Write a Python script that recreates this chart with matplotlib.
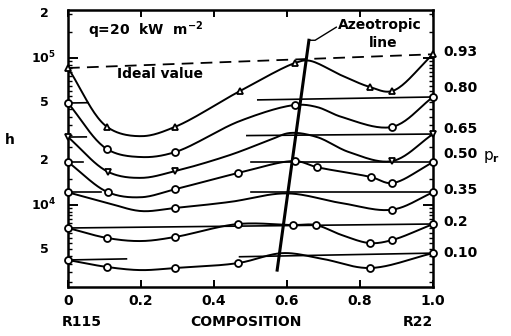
import numpy as np
import matplotlib.pyplot as plt
import matplotlib.transforms as mtransforms
from matplotlib.ticker import NullFormatter

plt.rcParams['font.family'] = ['DejaVu Sans']
plt.rcParams['font.weight'] = 'bold'

# composition = mole fraction R22, h in W/m2K, one curve per reduced pressure
pr_labels = ["0.93", "0.80", "0.65", "0.50", "0.35", "0.2", "0.10"]

x_093 = [0, 0.107, 0.2, 0.293, 0.471, 0.622, 0.66, 0.75, 0.827, 0.888, 1.0]
h_093 = [8.55e4, 3.40e4, 2.94e4, 3.40e4, 5.96e4, 9.25e4, 9.6e4, 7.6e4, 6.35e4, 5.96e4, 1.06e5]
m_093 = [1, 1, 0, 1, 1, 1, 0, 0, 1, 1, 1]

x_080 = [0, 0.107, 0.2, 0.293, 0.471, 0.622, 0.682, 0.75, 0.888, 1.0]
h_080 = [4.94e4, 2.40e4, 2.12e4, 2.29e4, 3.73e4, 4.79e4, 4.64e4, 3.97e4, 3.40e4, 5.43e4]
m_080 = [1, 1, 0, 1, 0, 1, 0, 0, 1, 1]

x_065 = [0, 0.11, 0.2, 0.293, 0.444, 0.553, 0.608, 0.682, 0.77, 0.888, 1.0]
h_065 = [2.90e4, 1.68e4, 1.53e4, 1.70e4, 2.19e4, 2.77e4, 3.09e4, 2.90e4, 2.29e4, 1.99e4, 3.04e4]
m_065 = [1, 1, 0, 1, 0, 0, 0, 0, 0, 1, 1]

x_050 = [0, 0.11, 0.2, 0.293, 0.466, 0.622, 0.682, 0.83, 0.888, 1.0]
h_050 = [1.96e4, 1.22e4, 1.13e4, 1.28e4, 1.65e4, 1.99e4, 1.81e4, 1.55e4, 1.41e4, 1.96e4]
m_050 = [1, 1, 0, 1, 1, 1, 1, 1, 1, 1]

x_035 = [0, 0.11, 0.2, 0.293, 0.444, 0.6, 0.75, 0.888, 1.0]
h_035 = [1.22e4, 1.03e4, 9.1e3, 9.55e3, 1.05e4, 1.20e4, 1.03e4, 9.3e3, 1.22e4]
m_035 = [1, 0, 0, 1, 0, 0, 0, 1, 1]

x_020 = [0, 0.107, 0.2, 0.293, 0.466, 0.616, 0.679, 0.75, 0.827, 0.888, 1.0]
h_020 = [6.98e3, 5.97e3, 5.69e3, 6.06e3, 7.43e3, 7.31e3, 7.31e3, 6.25e3, 5.51e3, 5.78e3, 7.43e3]
m_020 = [1, 1, 0, 1, 1, 1, 1, 0, 1, 1, 1]

x_010 = [0, 0.107, 0.2, 0.293, 0.466, 0.589, 0.70, 0.827, 1.0]
h_010 = [4.23e3, 3.79e3, 3.61e3, 3.73e3, 4.03e3, 4.71e3, 4.29e3, 3.73e3, 4.71e3]
m_010 = [1, 1, 0, 1, 1, 0, 0, 1, 1]

curves = [(x_093, h_093, m_093), (x_080, h_080, m_080), (x_065, h_065, m_065),
          (x_050, h_050, m_050), (x_035, h_035, m_035), (x_020, h_020, m_020),
          (x_010, h_010, m_010)]
symbols = ['^', 'o', 'v', 'o', 'o', 'o', 'o']

# visible pieces of the ideal (linear mixing) lines
ideal_parts = [[(0, 1)],
               [(0, 0.055), (0.52, 1)],
               [(0, 0.05), (0.49, 1)],
               [(0, 0.04), (0.5, 1)],
               [(0, 0.09), (0.5, 1)],
               [(0, 1)],
               [(0, 0.16), (0.47, 1)]]

# azeotropic composition line
azeo_x = [0.573, 0.66]
azeo_h = [3.61e3, 1.32e5]

label_h = [1.10e5, 6.25e4, 3.29e4, 2.22e4, 1.26e4, 7.66e3, 4.71e3]


def smooth(xs, hs, n=24):
    # centripetal catmull-rom through the nodes, in screen-like units
    pts = np.column_stack([np.asarray(xs) * 365.0, np.log10(hs) * 147.0])
    p = np.vstack([2 * pts[0] - pts[1], pts, 2 * pts[-1] - pts[-2]])
    out = []
    for i in range(1, len(p) - 2):
        p0, p1, p2, p3 = p[i - 1], p[i], p[i + 1], p[i + 2]
        t0 = 0.0
        t1 = t0 + np.linalg.norm(p1 - p0) ** 0.5
        t2 = t1 + np.linalg.norm(p2 - p1) ** 0.5
        t3 = t2 + np.linalg.norm(p3 - p2) ** 0.5
        t = np.linspace(t1, t2, n)[:, None]
        a1 = (t1 - t) / (t1 - t0) * p0 + (t - t0) / (t1 - t0) * p1
        a2 = (t2 - t) / (t2 - t1) * p1 + (t - t1) / (t2 - t1) * p2
        a3 = (t3 - t) / (t3 - t2) * p2 + (t - t2) / (t3 - t2) * p3
        b1 = (t2 - t) / (t2 - t0) * a1 + (t - t0) / (t2 - t0) * a2
        b2 = (t3 - t) / (t3 - t1) * a2 + (t - t1) / (t3 - t1) * a3
        c = (t2 - t) / (t2 - t1) * b1 + (t - t1) / (t2 - t1) * b2
        out.append(c if i == 1 else c[1:])
    c = np.vstack(out)
    return c[:, 0] / 365.0, 10 ** (c[:, 1] / 147.0)


fig = plt.figure(figsize=(5.11, 3.36), dpi=100)
ax = fig.add_axes([0.1331, 0.1458, 0.7143, 0.8244])
ax.set_yscale('log')
ax.set_xlim(0, 1)
ax.set_ylim(2.77e3, 2.12e5)

for k, (xs, hs, ms) in enumerate(curves):
    sx, sh = smooth(xs, hs)
    ax.plot(sx, sh, color='black', lw=1.4, zorder=3)
    # ideal line between the pure component values
    h0, h1 = hs[0], hs[-1]
    for a, b in ideal_parts[k]:
        xx = np.array([a, b])
        hh = h0 * (h1 / h0) ** xx
        if k == 0:
            ax.plot(xx, hh, color='black', lw=1.3, dashes=(6.5, 4), zorder=2)
        else:
            ax.plot(xx, hh, color='black', lw=1.2, zorder=2)
    mx = [x for x, m in zip(xs, ms) if m]
    mh = [h for h, m in zip(hs, ms) if m]
    ax.plot(mx, mh, ls='none', marker=symbols[k], ms=5, mfc='white',
            mec='black', mew=1.3, zorder=4, clip_on=False)

ax.plot(azeo_x, azeo_h, color='black', lw=2.2, zorder=3)
ax.plot([0.66, 0.677, 0.735], [1.32e5, 1.32e5, 1.62e5], color='black', lw=1.0,
        clip_on=False)
ax.text(0.74, 1.68e5, "Azeotropic", fontsize=10, ha='left', va='center')
ax.text(0.863, 1.265e5, "line", fontsize=10, ha='center', va='center')

ax.text(0.055, 0.928, "q=20  kW  m$^{\\mathbf{-2}}$", transform=ax.transAxes,
        fontsize=10, ha='left', va='center')
ax.text(0.134, 0.769, "Ideal value", transform=ax.transAxes, fontsize=10,
        ha='left', va='center')

# reduced pressure labels on the right
rtr = mtransforms.blended_transform_factory(ax.transAxes, ax.transData)
for lab, hy in zip(pr_labels, label_h):
    ax.text(1.027, hy, lab, transform=rtr, fontsize=10, ha='left', va='center')
ax.text(1.16, 0.469, "p$_\\mathbf{r}$", transform=ax.transAxes, fontsize=11,
        ha='center', va='center', fontweight='normal')

# x axis
ax.set_xticks([0, 0.2, 0.4, 0.6, 0.8, 1.0])
ax.set_xticklabels(['0', '0.2', '0.4', '0.6', '0.8', '1.0'], fontsize=10)
ax.tick_params(axis='x', which='both', direction='in', top=True, length=5,
               width=1.4, pad=5)
ax.text(-0.016, -0.126, "R115", transform=ax.transAxes, fontsize=10,
        ha='left', va='center')
ax.text(0.488, -0.126, "COMPOSITION", transform=ax.transAxes, fontsize=10,
        ha='center', va='center')
ax.text(1.0, -0.126, "R22", transform=ax.transAxes, fontsize=10,
        ha='right', va='center')

# y axis, log ticks on both sides with labels drawn by hand
ax.set_yticks([1e4, 1e5])
ax.set_yticks([h * d for d in (1e3, 1e4, 1e5) for h in np.arange(1, 10, 0.5)
               if 2.77e3 < h * d < 2.12e5], minor=True)
ax.yaxis.set_major_formatter(NullFormatter())
ax.yaxis.set_minor_formatter(NullFormatter())
ax.tick_params(axis='y', which='major', direction='in', right=True, length=7,
               width=1.4)
ax.tick_params(axis='y', which='minor', direction='in', right=True, length=3,
               width=1.0)
ytr = mtransforms.blended_transform_factory(ax.transAxes, ax.transData)
for hv, lab in [(2e5, '2'), (1e5, '10$^{\\mathbf{5}}$'), (5e4, '5'), (2e4, '2'),
                (1e4, '10$^{\\mathbf{4}}$'), (5e3, '5')]:
    ax.text(-0.066, hv, lab, transform=ytr, fontsize=9, ha='center', va='center')
ax.text(-0.159, 0.531, "h", transform=ax.transAxes, fontsize=10,
        ha='center', va='center')

for s in ax.spines.values():
    s.set_linewidth(1.8)

fig.savefig("out.png", dpi=100)
